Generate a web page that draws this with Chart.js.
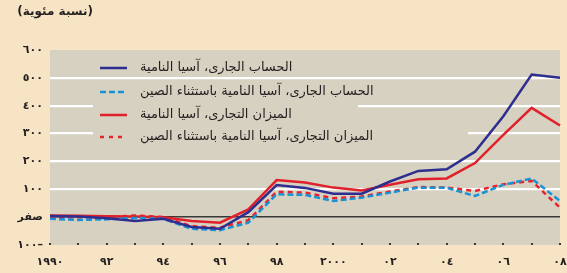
<!DOCTYPE html>
<html><head><meta charset="utf-8">
<script src="https://cdn.jsdelivr.net/npm/chart.js@4.4.1/dist/chart.umd.min.js"></script>
<style>html,body{margin:0;padding:0;background:#f7e4c4;overflow:hidden}canvas{display:block}</style>
</head><body>
<canvas id="c" width="567" height="273"></canvas>
<script>
const years = [1990,1991,1992,1993,1994,1995,1996,1997,1998,1999,2000,2001,2002,2003,2004,2005,2006,2007,2008];
const caAsia      = [4, 2, -4, -14, -6, -35, -42, 18, 115, 105, 84, 84, 128, 166, 172, 235, 362, 512, 500];
const caExChina   = [-6, -10, -8, -3, -6, -42, -47, -20, 82, 80, 58, 70, 88, 106, 105, 76, 116, 139, 58];
const tbAsia      = [6, 5, 3, 2, 0, -14, -20, 28, 133, 124, 106, 96, 116, 136, 139, 194, 295, 392, 329];
const tbExChina   = [-2, 0, 0, 6, 0, -32, -38, -11, 91, 88, 68, 74, 92, 108, 106, 94, 118, 130, 34];
const seriesNames = ['الحساب الجارى، آسيا النامية','الحساب الجارى، آسيا النامية باستثناء الصين','الميزان التجارى، آسيا النامية','الميزان التجارى، آسيا النامية باستثناء الصين'];
const xTickYears  = [1990,1992,1994,1996,1998,2000,2002,2004,2006,2008];
const xTickLabels = ['١٩٩٠','٩٢','٩٤','٩٦','٩٨','٢٠٠٠','٠٢','٠٤','٠٦','٠٨'];
const yTickValues = [-100,0,100,200,300,400,500,600];
const yTickLabels = ['–١٠٠','صفر','١٠٠','٢٠٠','٣٠٠','٤٠٠','٥٠٠','٦٠٠'];
const unitLabel = '(نسبة مئوية)';

const CREAM='#f7e4c4', PLOT='#d7d1c2', TXT='#231f20';
const NAVY='#2d2e8f', RED='#e0202a', LBLUE='#1a93d4', RED2='#e8232b';
const FONT='"DejaVu Sans", sans-serif';

const bgPlugin = {
  id:'bg',
  beforeDraw(chart){
    const {ctx, chartArea:a} = chart;
    ctx.save();
    ctx.fillStyle=CREAM; ctx.fillRect(0,0,chart.width,chart.height);
    ctx.fillStyle=PLOT; ctx.fillRect(a.left,a.top,a.right-a.left,a.bottom-a.top);
    ctx.restore();
  },
  beforeDatasetsDraw(chart){
    const {ctx} = chart;
    ctx.save();
    ctx.fillStyle=PLOT;
    ctx.fillRect(93,100,265,13);
    ctx.fillRect(93,128,375,13);
    ctx.restore();
  },
  afterDraw(chart){
    const {ctx, scales:{x,y}} = chart;
    ctx.save();
    ctx.fillStyle='#3a3a3a';
    years.forEach((yr,i)=>{ const px=x.getPixelForValue(i); ctx.fillRect(Math.round(px)-1,243,2,2); });
    ctx.fillStyle=TXT;
    ctx.direction='rtl';
    ctx.textBaseline='middle';
    ctx.font='bold 11px '+FONT;
    ctx.textAlign='right';
    yTickValues.forEach((v,i)=>{ ctx.fillText(yTickLabels[i], 43, y.getPixelForValue(v)); });
    ctx.textAlign='center';
    xTickYears.forEach((yr,i)=>{ ctx.fillText(xTickLabels[i], x.getPixelForValue(years.indexOf(yr)), 262); });
    ctx.font='bold 12px '+FONT;
    ctx.textAlign='right';
    ctx.fillText(unitLabel, 93, 12);
    const rows=[68,92,115,137];
    const st=[{c:NAVY,d:[]},{c:LBLUE,d:[6,3]},{c:RED,d:[]},{c:RED2,d:[4,5]}];
    ctx.font='13px '+FONT;
    ctx.textAlign='left';
    rows.forEach((ry,i)=>{
      ctx.strokeStyle=st[i].c; ctx.lineWidth=2.5; ctx.setLineDash(st[i].d);
      ctx.beginPath(); ctx.moveTo(100,ry); ctx.lineTo(127,ry); ctx.stroke();
      ctx.fillStyle=TXT; ctx.fillText(seriesNames[i],140,ry);
    });
    ctx.restore();
  }
};

new Chart(document.getElementById('c'),{
  type:'line',
  data:{labels:years, datasets:[
    {label:seriesNames[0], data:caAsia, borderColor:NAVY, borderWidth:2.5},
    {label:seriesNames[1], data:caExChina, borderColor:LBLUE, borderWidth:2.5, borderDash:[6,3]},
    {label:seriesNames[2], data:tbAsia, borderColor:RED, borderWidth:2.5},
    {label:seriesNames[3], data:tbExChina, borderColor:RED2, borderWidth:2.5, borderDash:[5,4]}
  ]},
  options:{
    responsive:false, animation:false, devicePixelRatio:1,
    layout:{padding:{left:50,top:50,right:7,bottom:28}},
    elements:{point:{radius:0}, line:{tension:0, fill:false}},
    plugins:{legend:{display:false}, tooltip:{enabled:false}},
    scales:{
      x:{type:'category', offset:false, grid:{display:false}, border:{display:false}, ticks:{display:false}, afterFit(s){s.height=0;}},
      y:{min:-100,max:600, ticks:{display:false, stepSize:100}, border:{display:false},
         grid:{drawTicks:false,
           color:c=>{const v=c.tick.value; return v===0?'#3b3838':(v>0&&v<600?'#ffffff':'rgba(0,0,0,0)');},
           lineWidth:c=>c.tick.value===0?1.5:2.2},
         afterFit(s){s.width=0;}}
    }
  },
  plugins:[bgPlugin]
});
</script>
</body></html>
